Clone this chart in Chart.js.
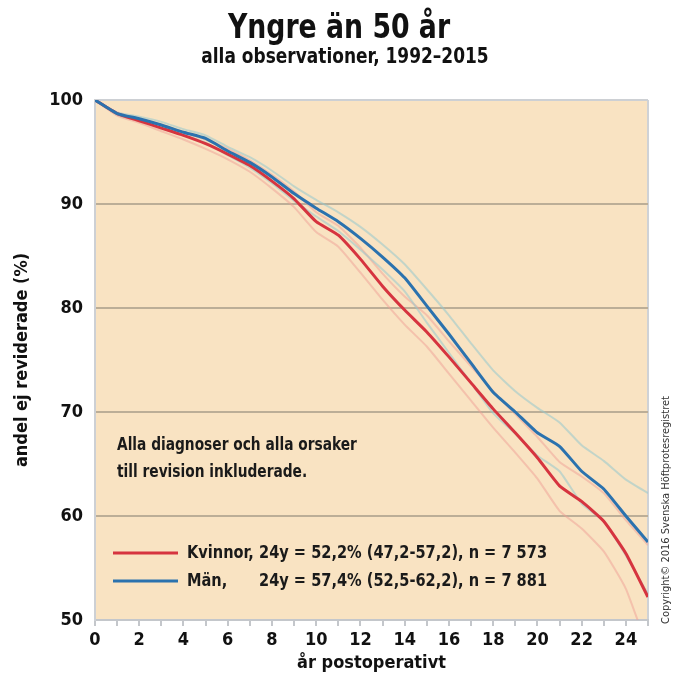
<!DOCTYPE html>
<html>
<head>
<meta charset="utf-8">
<script src="https://cdn.jsdelivr.net/npm/chart.js@4"></script>
<style>
  body { margin: 0; background: #fff; }
  canvas { display: block; }
</style>
</head>
<body>
<canvas id="mychart" width="680" height="677"></canvas>
<script>
// years after the operation
const years = [0, 1, 2, 3, 4, 5, 6, 7, 8, 9, 10, 11, 12, 13, 14, 15, 16, 17, 18, 19, 20, 21, 22, 23, 24, 25];

// share not revised (%)
const kvinnor   = [100, 98.7, 98.0, 97.3, 96.6, 95.8, 94.8, 93.7, 92.2, 90.5, 88.3, 87.0, 84.7, 82.1, 79.8, 77.7, 75.3, 72.8, 70.3, 68.0, 65.6, 62.9, 61.4, 59.5, 56.4, 52.2];
const kvinnorHi = [100, 98.8, 98.2, 97.6, 96.9, 96.2, 95.3, 94.2, 92.8, 91.2, 89.2, 87.9, 85.8, 83.3, 81.1, 79.3, 76.8, 74.4, 72.0, 69.8, 67.6, 65.2, 63.8, 62.2, 59.6, 57.2];
const kvinnorLo = [100, 98.5, 97.8, 97.0, 96.2, 95.3, 94.3, 93.1, 91.5, 89.7, 87.3, 85.9, 83.4, 80.8, 78.4, 76.3, 73.7, 71.1, 68.5, 66.1, 63.6, 60.5, 58.8, 56.6, 53.0, 47.2];

const man   = [100, 98.7, 98.2, 97.6, 96.9, 96.3, 95.1, 94.0, 92.6, 91.0, 89.6, 88.3, 86.7, 84.9, 82.9, 80.2, 77.5, 74.7, 71.9, 70.0, 68.0, 66.7, 64.3, 62.6, 60.0, 57.5];
const manHi = [100, 98.8, 98.4, 97.9, 97.2, 96.6, 95.5, 94.5, 93.2, 91.7, 90.4, 89.2, 87.8, 86.1, 84.2, 81.8, 79.3, 76.6, 74.0, 72.0, 70.4, 69.0, 66.8, 65.3, 63.5, 62.2];
const manLo = [100, 98.6, 98.0, 97.3, 96.6, 95.9, 94.7, 93.5, 92.0, 90.3, 88.8, 87.4, 85.6, 83.7, 81.6, 78.6, 75.7, 72.8, 69.9, 67.9, 65.8, 64.3, 61.2, 59.5, 56.2, 52.5];

const yTicks = [50, 60, 70, 80, 90, 100];

const titleText = 'Yngre än 50 år';
const subtitleText = 'alla observationer, 1992–2015';
const legendNames = ['Kvinnor,', 'Män,'];
const legendStats = ['24y = 52,2% (47,2-57,2), n = 7 573', '24y = 57,4% (52,5-62,2), n = 7 881'];
const noteLines = ['Alla diagnoser och alla orsaker', 'till revision inkluderade.'];
const copyright = 'Copyright© 2016 Svenska Höftprotesregistret';

const FONT = "'Liberation Sans Narrow', 'DejaVu Sans Condensed', 'Roboto Condensed', sans-serif";
const SQUEEZE = 0.9; // the original face is narrower than anything installed
const RED = '#d6343f';
const BLUE = '#2b72ae';
const PINK = 'rgba(240, 160, 150, 0.5)';
const TEAL = 'rgba(150, 200, 205, 0.55)';

function pts(arr) {
    return years.map((yr, i) => ({ x: yr, y: arr[i] }));
}

function line(label, arr, color, width, order) {
    return {
        label: label,
        data: pts(arr),
        borderColor: color,
        backgroundColor: color,
        borderWidth: width,
        pointRadius: 0,
        tension: 0.15,
        fill: false,
        order: order
    };
}

// squeezed text, x is the left edge (or centre when align = 'center')
function text(ctx, str, x, y, align) {
    ctx.save();
    ctx.translate(x, y);
    ctx.scale(SQUEEZE, 1);
    ctx.textAlign = align || 'left';
    ctx.fillText(str, 0, 0);
    ctx.restore();
}

// peach plot background + thin frame on the right
const plotBg = {
    id: 'plotBg',
    beforeDraw(chart) {
        const { ctx, chartArea: a } = chart;
        ctx.save();
        ctx.fillStyle = '#f9e3c2';
        ctx.fillRect(a.left, a.top, a.right - a.left, a.bottom - a.top);
        ctx.strokeStyle = '#cfd2d6';
        ctx.lineWidth = 2;
        ctx.beginPath();
        ctx.moveTo(a.right, a.top);
        ctx.lineTo(a.right, a.bottom);
        ctx.stroke();
        ctx.restore();
    }
};

// titles, note text, legend and copyright line
const extras = {
    id: 'extras',
    afterDraw(chart) {
        const ctx = chart.ctx;
        ctx.save();
        ctx.fillStyle = '#111';
        ctx.textBaseline = 'middle';

        ctx.font = 'bold 33px ' + FONT;
        text(ctx, titleText, 339, 29, 'center');
        ctx.font = 'bold 21px ' + FONT;
        text(ctx, subtitleText, 345, 58, 'center');

        ctx.fillStyle = '#1a1a1a';
        ctx.font = 'bold 17px ' + FONT;
        text(ctx, noteLines[0], 117, 446);
        text(ctx, noteLines[1], 117, 473);

        const colors = [chart.data.datasets[0].borderColor, chart.data.datasets[3].borderColor];
        const rows = [553, 581];
        ctx.font = 'bold 18px ' + FONT;
        rows.forEach((ry, i) => {
            ctx.strokeStyle = colors[i];
            ctx.lineWidth = 3;
            ctx.beginPath();
            ctx.moveTo(113, ry);
            ctx.lineTo(178, ry);
            ctx.stroke();
            text(ctx, legendNames[i], 187, ry);
            text(ctx, legendStats[i], 259, ry);
        });

        ctx.font = '11px ' + FONT;
        ctx.fillStyle = '#333';
        ctx.translate(666, 510);
        ctx.rotate(-Math.PI / 2);
        ctx.textAlign = 'center';
        ctx.fillText(copyright, 0, 0);
        ctx.restore();
    }
};

const ctx = document.querySelector('#mychart');

new Chart(ctx, {
    type: 'line',
    data: {
        datasets: [
            line('Kvinnor', kvinnor, RED, 3, 1),
            line('Kvinnor övre', kvinnorHi, PINK, 2, 3),
            line('Kvinnor nedre', kvinnorLo, PINK, 2, 3),
            line('Män', man, BLUE, 3, 0),
            line('Män övre', manHi, TEAL, 2, 2),
            line('Män nedre', manLo, TEAL, 2, 2)
        ]
    },
    options: {
        responsive: false,
        animation: false,
        layout: { padding: { left: 0, right: 32, top: 100, bottom: 2 } },
        plugins: {
            legend: { display: false },
            tooltip: { enabled: false }
        },
        scales: {
            x: {
                type: 'linear',
                min: 0,
                max: 25,
                afterFit(scale) { scale.height = 55; },
                ticks: {
                    stepSize: 1,
                    autoSkip: false,
                    maxRotation: 0,
                    padding: 4,
                    color: '#111',
                    font: { family: FONT, size: 18, weight: 'bold' },
                    callback: v => (v % 2 === 0 ? String(v) : '')
                },
                grid: {
                    drawOnChartArea: false,
                    drawTicks: true,
                    tickLength: 6,
                    color: '#c4c7cb',
                    lineWidth: 2
                },
                border: { color: '#c4c7cb', width: 2 },
                title: {
                    display: true,
                    text: 'år postoperativt',
                    color: '#111',
                    font: { family: FONT, size: 18, weight: 'bold', lineHeight: 1 },
                    padding: { top: 0, bottom: 3 }
                }
            },
            y: {
                min: 50,
                max: 100,
                afterFit(scale) { scale.width = 95; },
                afterBuildTicks(scale) { scale.ticks = yTicks.map(v => ({ value: v })); },
                ticks: {
                    padding: 12,
                    color: '#111',
                    font: { family: FONT, size: 18, weight: 'bold' }
                },
                grid: {
                    drawTicks: false,
                    color: c => (c.tick && c.tick.value === 100 ? '#cdd0d4' : '#bcae97'),
                    lineWidth: 2
                },
                border: { color: '#cdd0d4', width: 2 },
                title: {
                    display: true,
                    text: 'andel ej reviderade (%)',
                    color: '#111',
                    font: { family: FONT, size: 18, weight: 'bold', lineHeight: 1 },
                    padding: { top: 13, bottom: 0 }
                }
            }
        }
    },
    plugins: [plotBg, extras]
});
</script>
</body>
</html>
